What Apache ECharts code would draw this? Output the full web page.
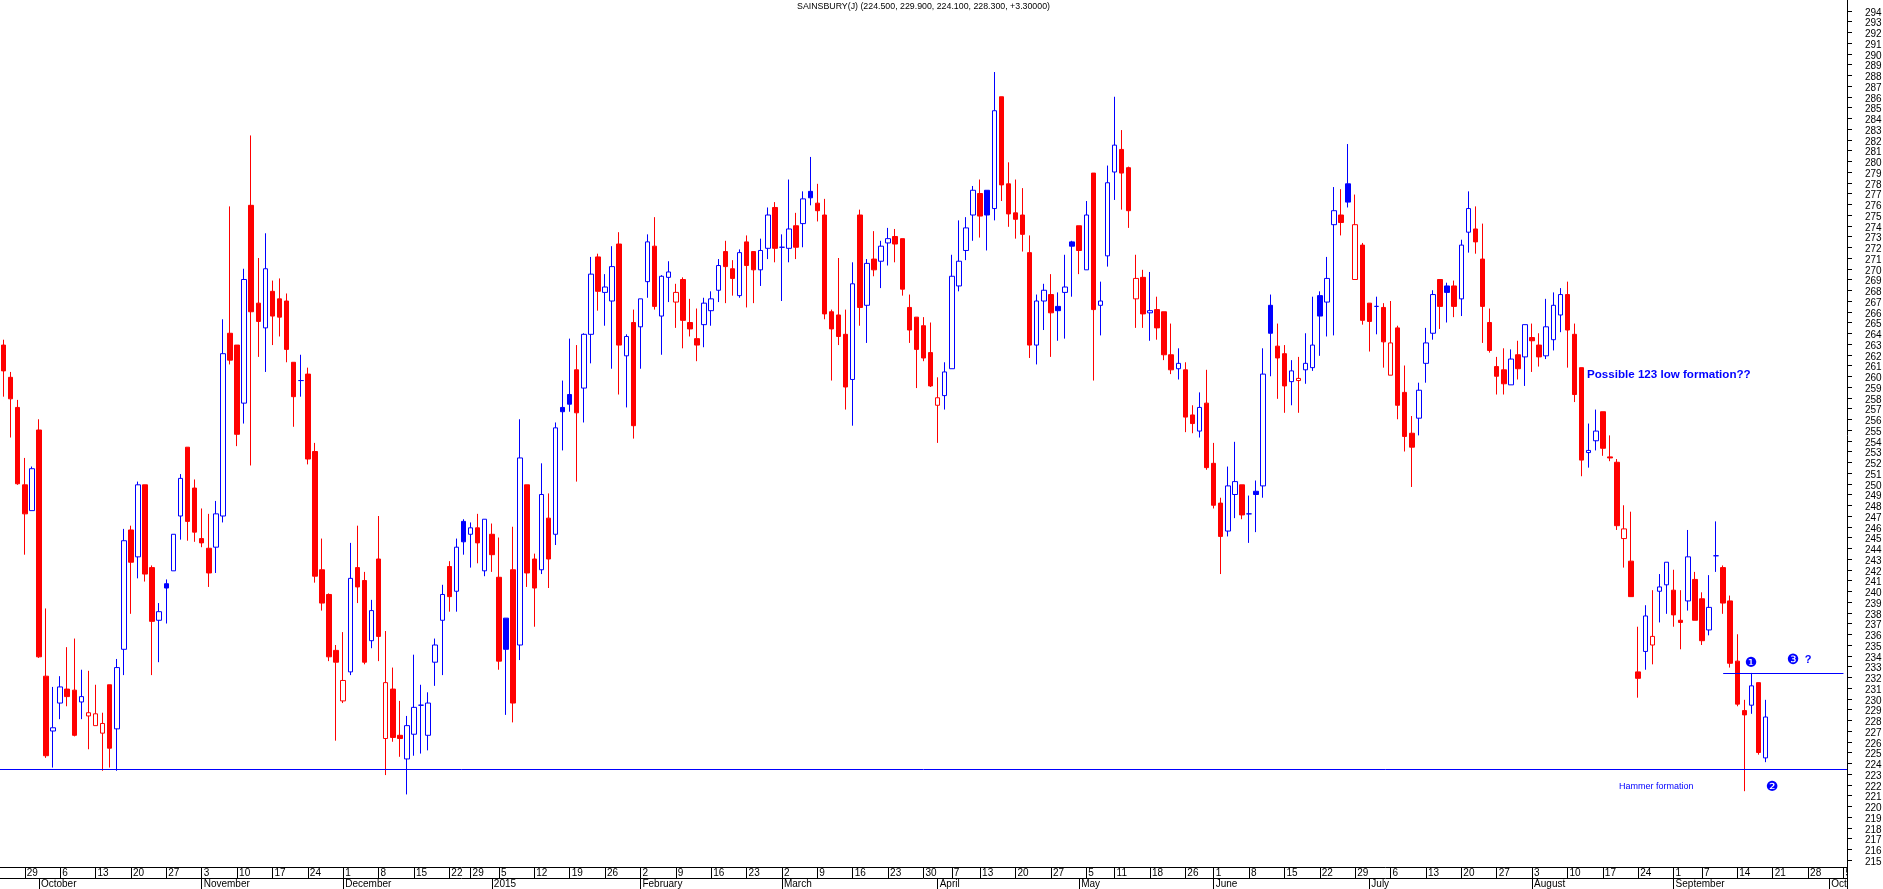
<!DOCTYPE html>
<html>
<head>
<meta charset="utf-8">
<title>Sainsbury</title>
<style>
  html, body {margin: 0; padding: 0; background: #fff;}
  #chart {width: 1883px; height: 889px;}
</style>
<script src="https://cdn.jsdelivr.net/npm/echarts@6/dist/echarts.min.js"></script>
</head>
<body>
<div id="chart"></div>
<script>
const dates = [
  '2014-09-24','2014-09-25','2014-09-26','2014-09-29','2014-09-30',
  '2014-10-01','2014-10-02','2014-10-03','2014-10-06','2014-10-07','2014-10-08','2014-10-09','2014-10-10',
  '2014-10-13','2014-10-14','2014-10-15','2014-10-16','2014-10-17','2014-10-20','2014-10-21','2014-10-22','2014-10-23','2014-10-24',
  '2014-10-27','2014-10-28','2014-10-29','2014-10-30','2014-10-31',
  '2014-11-03','2014-11-04','2014-11-05','2014-11-06','2014-11-07','2014-11-10','2014-11-11','2014-11-12','2014-11-13','2014-11-14',
  '2014-11-17','2014-11-18','2014-11-19','2014-11-20','2014-11-21','2014-11-24','2014-11-25','2014-11-26','2014-11-27','2014-11-28',
  '2014-12-01','2014-12-02','2014-12-03','2014-12-04','2014-12-05','2014-12-08','2014-12-09','2014-12-10','2014-12-11','2014-12-12',
  '2014-12-15','2014-12-16','2014-12-17','2014-12-18','2014-12-19','2014-12-22','2014-12-23','2014-12-24','2014-12-29','2014-12-30','2014-12-31',
  '2015-01-02','2015-01-05','2015-01-06','2015-01-07','2015-01-08','2015-01-09','2015-01-12','2015-01-13','2015-01-14','2015-01-15','2015-01-16',
  '2015-01-19','2015-01-20','2015-01-21','2015-01-22','2015-01-23','2015-01-26','2015-01-27','2015-01-28','2015-01-29','2015-01-30',
  '2015-02-02','2015-02-03','2015-02-04','2015-02-05','2015-02-06','2015-02-09','2015-02-10','2015-02-11','2015-02-12','2015-02-13',
  '2015-02-16','2015-02-17','2015-02-18','2015-02-19','2015-02-20','2015-02-23','2015-02-24','2015-02-25','2015-02-26','2015-02-27',
  '2015-03-02','2015-03-03','2015-03-04','2015-03-05','2015-03-06','2015-03-09','2015-03-10','2015-03-11','2015-03-12','2015-03-13',
  '2015-03-16','2015-03-17','2015-03-18','2015-03-19','2015-03-20','2015-03-23','2015-03-24','2015-03-25','2015-03-26','2015-03-27','2015-03-30','2015-03-31',
  '2015-04-01','2015-04-02','2015-04-07','2015-04-08','2015-04-09','2015-04-10','2015-04-13','2015-04-14','2015-04-15','2015-04-16','2015-04-17',
  '2015-04-20','2015-04-21','2015-04-22','2015-04-23','2015-04-24','2015-04-27','2015-04-28','2015-04-29','2015-04-30',
  '2015-05-01','2015-05-05','2015-05-06','2015-05-07','2015-05-08','2015-05-11','2015-05-12','2015-05-13','2015-05-14','2015-05-15',
  '2015-05-18','2015-05-19','2015-05-20','2015-05-21','2015-05-22','2015-05-26','2015-05-27','2015-05-28','2015-05-29',
  '2015-06-01','2015-06-02','2015-06-03','2015-06-04','2015-06-05','2015-06-08','2015-06-09','2015-06-10','2015-06-11','2015-06-12',
  '2015-06-15','2015-06-16','2015-06-17','2015-06-18','2015-06-19','2015-06-22','2015-06-23','2015-06-24','2015-06-25','2015-06-26','2015-06-29','2015-06-30',
  '2015-07-01','2015-07-02','2015-07-03','2015-07-06','2015-07-07','2015-07-08','2015-07-09','2015-07-10','2015-07-13','2015-07-14','2015-07-15','2015-07-16','2015-07-17',
  '2015-07-20','2015-07-21','2015-07-22','2015-07-23','2015-07-24','2015-07-27','2015-07-28','2015-07-29','2015-07-30','2015-07-31',
  '2015-08-03','2015-08-04','2015-08-05','2015-08-06','2015-08-07','2015-08-10','2015-08-11','2015-08-12','2015-08-13','2015-08-14',
  '2015-08-17','2015-08-18','2015-08-19','2015-08-20','2015-08-21','2015-08-24','2015-08-25','2015-08-26','2015-08-27','2015-08-28',
  '2015-09-01','2015-09-02','2015-09-03','2015-09-04','2015-09-07','2015-09-08','2015-09-09','2015-09-10','2015-09-11',
  '2015-09-14','2015-09-15','2015-09-16','2015-09-17','2015-09-18','2015-09-21','2015-09-22','2015-09-23','2015-09-24','2015-09-25',
  '2015-09-28','2015-09-29','2015-09-30','2015-10-01','2015-10-02','2015-10-05'
];

const opens = [
  262.9,259.9,257.1,249.9,247.5,255.0,232.1,227.0,229.6,230.9,
  230.8,229.7,228.4,227.5,226.8,231.3,227.2,234.6,245.7,243.2,
  249.9,242.2,237.3,240.7,241.9,247.0,253.4,249.6,244.9,244.0,
  244.1,247.0,264.0,262.9,257.5,275.9,266.8,264.5,267.9,267.2,
  267.0,261.3,259.6,260.2,253.0,242.0,239.7,234.5,229.8,232.5,
  242.2,241.0,235.4,243.0,226.3,230.9,226.6,224.4,226.7,229.4,
  226.6,233.4,237.3,242.3,240.0,246.5,245.3,245.9,241.9,245.3,
  241.3,237.5,242.0,235.0,249.9,243.0,242.0,246.8,245.3,257.1,
  258.3,260.6,258.9,263.9,271.1,267.8,267.0,272.3,261.9,265.0,
  264.6,268.8,272.1,265.6,269.2,266.9,269.0,265.0,263.5,264.8,
  266.1,268.0,271.6,270.0,267.5,272.5,271.6,269.9,271.9,275.7,
  272.0,271.9,274.0,274.2,277.2,276.1,275.0,266.0,265.7,263.9,
  259.7,275.0,266.6,270.9,270.7,272.4,273.0,272.8,266.4,265.5,
  264.7,262.2,257.3,258.2,260.7,268.4,271.7,275.0,277.0,277.3,
  275.6,286.0,277.9,275.2,275.0,271.5,262.9,267.0,267.6,266.5,
  267.8,272.5,274.0,269.9,278.9,266.6,271.2,279.0,281.1,279.4,
  267.2,269.2,265.9,266.2,266.0,262.0,260.7,260.6,256.4,254.9,
  257.5,251.9,248.2,245.6,249.0,249.9,247.2,249.3,249.8,266.6,
  262.8,262.1,259.5,259.6,260.6,260.8,267.5,266.9,274.1,275.0,
  277.9,269.0,272.2,266.8,266.5,266.4,260.1,264.5,258.5,254.7,
  256.1,261.2,264.0,269.0,268.4,268.4,267.2,273.4,273.7,270.9,
  265.0,260.9,260.6,259.2,262.0,261.8,263.6,262.9,261.9,263.4,
  265.7,267.6,263.9,260.8,252.9,254.0,256.7,252.5,252.0,244.9,
  242.8,232.5,234.4,235.0,240.0,240.6,240.1,237.3,239.1,241.1,
  239.3,236.4,243.3,242.2,239.1,233.5,228.9,229.4,231.5,224.5
];

const highs = [
  263.4,260.4,257.8,252.4,251.6,256.0,238.4,231.1,232.1,234.8,
  235.6,232.7,232.6,231.3,228.7,231.3,233.7,245.8,246.1,250.2,
  249.9,242.4,238.9,241.1,245.3,250.9,253.4,250.4,247.7,247.2,
  248.4,265.3,275.8,262.9,270.0,282.4,271.0,273.3,268.9,269.1,
  267.7,261.3,262.0,260.8,253.8,244.9,239.8,235.0,236.2,244.5,
  246.1,241.8,239.2,247.0,236.3,232.9,229.8,228.4,234.1,231.3,
  230.6,235.6,240.6,242.8,244.9,246.7,246.4,247.2,246.7,246.3,
  245.0,237.5,246.0,256.0,249.9,243.5,251.9,249.1,255.7,259.6,
  263.5,262.9,264.0,271.1,271.4,269.5,272.1,273.4,263.9,266.2,
  267.2,273.2,274.8,269.4,270.7,268.6,269.2,267.2,266.3,267.3,
  267.9,270.9,272.6,270.8,271.8,273.1,271.6,272.8,275.7,276.2,
  273.2,278.3,275.2,277.2,280.4,277.9,276.5,266.2,271.0,266.2,
  270.6,275.5,270.9,273.5,272.6,273.8,273.7,272.8,267.6,265.5,
  265.5,265.0,259.9,261.3,271.3,274.5,274.8,277.7,278.3,277.3,
  288.3,286.0,279.9,278.3,277.5,273.1,267.6,268.6,269.5,267.8,
  271.3,272.6,274.0,276.3,278.9,268.8,279.6,286.0,282.9,279.5,
  271.3,269.9,269.7,267.4,266.0,264.9,262.6,261.3,257.3,258.5,
  260.6,253.8,248.7,251.6,253.9,249.9,248.9,250.3,262.6,267.6,
  264.9,262.9,261.5,261.8,264.0,267.4,267.9,271.1,277.6,277.4,
  281.6,276.9,272.4,266.8,267.4,266.8,267.0,264.7,261.0,256.3,
  259.4,264.5,268.0,269.0,268.7,268.9,272.7,277.2,275.8,274.2,
  266.3,261.8,262.6,262.5,263.3,264.8,264.9,264.0,267.2,267.8,
  268.2,268.8,264.9,260.8,255.6,256.9,256.7,254.5,252.3,248.0,
  247.4,236.7,238.7,240.1,241.6,242.7,242.0,240.1,245.7,241.8,
  239.9,241.5,246.5,242.4,239.6,236.0,229.9,232.4,231.5,229.9
];

const lows = [
  258.1,254.3,249.9,243.4,247.5,233.8,224.5,223.6,228.1,229.3,
  226.5,228.1,225.3,227.5,223.3,223.6,223.3,232.2,237.9,241.2,
  240.9,232.2,233.4,237.0,241.9,244.8,244.7,244.6,244.1,240.4,
  241.7,246.4,261.1,253.5,255.6,251.7,261.8,260.4,262.9,263.7,
  261.3,255.3,258.1,251.8,240.8,238.2,233.5,226.1,229.6,232.2,
  238.9,233.2,234.7,233.5,222.9,226.0,224.6,221.1,224.7,224.9,
  225.2,231.2,232.2,238.1,238.1,243.4,242.2,242.6,241.4,241.8,
  232.7,228.5,227.8,233.6,240.4,236.7,241.6,240.3,244.3,253.1,
  256.7,250.2,255.7,261.2,266.1,264.7,260.7,258.3,257.1,254.2,
  260.7,267.3,266.2,262.0,266.9,264.5,262.6,263.7,261.4,262.7,
  264.7,266.9,266.8,267.5,267.3,266.4,266.8,268.4,270.9,270.6,
  267.0,270.6,270.9,272.0,275.9,274.4,265.3,259.6,262.9,256.9,
  255.4,264.7,263.1,269.3,268.2,270.3,270.6,267.5,263.1,258.9,
  261.4,259.0,253.8,256.9,260.7,267.9,270.8,272.6,272.9,271.7,
  274.5,276.3,273.9,272.8,271.6,261.7,261.1,264.3,261.8,263.3,
  263.5,267.4,269.5,269.9,259.6,263.8,270.2,276.4,275.5,273.8,
  264.5,264.5,263.3,263.4,261.5,260.2,259.7,254.8,254.7,254.3,
  251.3,247.7,241.6,245.1,246.8,246.7,244.5,245.5,248.7,260.0,
  257.9,256.6,257.3,256.6,259.3,260.5,261.9,263.7,263.8,273.1,
  275.7,269.0,264.8,262.3,263.9,260.8,260.1,256.0,253.0,249.7,
  254.5,259.4,263.4,264.4,265.0,265.5,265.6,271.5,271.4,263.1,
  262.2,258.3,258.3,259.2,259.7,259.1,260.4,260.9,261.6,262.4,
  264.1,260.8,257.6,250.7,251.5,253.1,252.6,252.1,245.7,242.2,
  239.5,230.1,232.7,233.2,237.1,237.9,236.7,234.6,238.2,237.3,
  235.0,235.9,241.8,237.9,232.9,229.3,221.4,228.6,224.8,224.1
];

const closes = [
  260.5,257.9,250.0,247.2,251.4,233.9,224.7,227.3,231.1,230.2,
  226.6,230.2,228.7,228.6,227.7,225.4,232.9,244.7,242.7,249.9,
  241.6,237.2,238.1,240.3,245.3,250.5,246.5,245.5,244.5,241.7,
  247.2,262.1,261.5,254.6,269.0,266.0,265.1,270.0,265.6,265.5,
  262.5,258.1,259.6,252.3,241.4,238.9,233.9,233.4,231.7,241.2,
  240.4,233.4,238.2,235.8,231.5,226.4,226.3,227.5,229.2,229.4,
  229.6,235.0,239.7,239.5,244.1,244.6,245.9,244.5,246.7,243.4,
  233.5,234.6,229.6,252.4,241.7,240.3,249.0,243.0,255.2,256.7,
  257.4,256.6,263.9,269.5,267.9,268.3,270.2,262.9,263.7,255.4,
  267.2,272.5,266.5,269.3,269.7,267.8,265.2,264.4,262.9,266.8,
  267.2,270.3,270.2,269.1,271.5,270.3,269.9,271.7,275.0,271.9,
  272.0,273.7,272.0,276.5,276.6,275.4,265.8,264.4,263.7,259.0,
  268.6,266.4,270.5,269.9,272.1,272.8,272.3,268.1,264.3,262.5,
  261.7,259.1,258.0,260.4,269.3,270.7,273.8,277.3,274.9,275.0,
  284.7,277.8,275.1,274.6,273.2,262.9,267.0,268.0,265.9,266.1,
  268.3,272.1,271.7,275.0,266.2,267.0,278.0,281.5,278.9,275.4,
  269.1,265.8,266.1,264.5,262.0,260.6,261.2,256.2,255.6,257.1,
  251.5,248.0,245.1,249.8,250.2,247.1,247.2,249.0,260.2,264.0,
  261.7,259.1,260.5,259.8,261.2,262.9,265.6,269.1,275.4,274.3,
  276.2,274.1,265.2,265.1,266.5,263.2,263.1,257.3,254.4,253.4,
  258.7,263.1,267.6,266.5,267.8,266.5,272.2,275.6,272.5,266.5,
  262.4,260.0,259.3,261.6,260.7,264.8,263.3,261.8,264.6,266.6,
  267.6,264.3,258.3,252.2,253.1,254.9,253.3,252.4,246.1,245.8,
  239.5,231.9,237.7,235.8,240.4,242.7,237.8,237.1,243.2,237.3,
  235.4,238.5,243.3,238.9,233.3,229.5,228.5,231.2,225.0,228.3
];

const monthNames = ['2015','February','March','April','May','June','July','August','September','October','November','December'];
const supportLevel = 223.4;
const resistanceLevel = 232.4;
const resistanceFrom = '2015-09-10';
const resistanceTo = '2015-10-05';
const chartTitle = 'SAINSBURY(J) (224.500, 229.900, 224.100, 228.300, +3.30000)';

const RED = '#ff0000';
const BLUE = '#0000ff';
const FONT = '"Liberation Sans", sans-serif';

// blue when the close is above the previous close, hollow when close is above open
const candles = opens.map((o, i) => {
  const c = closes[i];
  const col = i > 0 && c >= closes[i - 1] ? BLUE : RED;
  const fill = c >= o ? '#fff' : col;
  return {
    value: [o, c, lows[i], highs[i]],
    itemStyle: {color: fill, color0: fill, borderColor: col, borderColor0: col},
  };
});

const day = (s) => new Date(s + 'T00:00:00Z');
const weekTicks = new Set();
const monthTicks = new Set();
dates.forEach((d, i) => {
  if (i === 0) return;
  const cur = day(d), prev = day(dates[i - 1]);
  if (cur.getUTCDay() <= prev.getUTCDay()) weekTicks.add(i);
  if (cur.getUTCMonth() !== prev.getUTCMonth()) monthTicks.add(i);
});

const baseAxis = {
  type: 'category',
  data: dates,
  position: 'bottom',
  boundaryGap: true,
  axisLine: {onZero: false, lineStyle: {color: '#000', width: 1}},
  splitLine: {show: false},
};

const blueText = (text, x, y, font, align) => ({
  type: 'text',
  x, y,
  silent: true,
  z: 50,
  style: {text, fill: BLUE, font, align: align || 'left', verticalAlign: 'middle'},
});

const myChart = echarts.init(document.getElementById('chart'));
myChart.setOption({
  animation: false,
  backgroundColor: '#fff',
  title: {
    text: chartTitle,
    left: 923.5,
    top: 2,
    padding: 0,
    textAlign: 'center',
    textStyle: {color: '#000', fontSize: 8.8, fontWeight: 'normal', fontFamily: FONT},
  },
  grid: {left: 0, top: 0, width: 1847, height: 870.75, outerBoundsMode: 'none'},
  xAxis: [
    Object.assign({}, baseAxis, {
      offset: -3.75,
      axisTick: {
        show: true,
        alignWithLabel: true,
        length: 11,
        interval: (i) => weekTicks.has(i),
        lineStyle: {color: '#000'},
      },
      axisLabel: {
        show: true,
        interval: (i) => weekTicks.has(i),
        hideOverlap: false,
        formatter: (v) => String(day(v).getUTCDate()),
        align: 'left',
        margin: 1,
        padding: [0, 0, 0, 2],
        color: '#000',
        fontSize: 10,
        fontFamily: FONT,
      },
    }),
    Object.assign({}, baseAxis, {
      offset: 7.25,
      axisTick: {
        show: true,
        alignWithLabel: true,
        length: 11,
        interval: (i) => monthTicks.has(i),
        lineStyle: {color: '#000'},
      },
      axisLabel: {
        show: true,
        interval: (i) => monthTicks.has(i),
        hideOverlap: false,
        formatter: (v) => monthNames[day(v).getUTCMonth()],
        align: 'left',
        margin: 1,
        padding: [0, 0, 0, 2],
        color: '#000',
        fontSize: 10,
        fontFamily: FONT,
      },
    }),
  ],
  yAxis: {
    type: 'value',
    position: 'right',
    min: 214,
    max: 295,
    interval: 1,
    scale: true,
    splitLine: {show: false},
    axisLine: {show: true, lineStyle: {color: '#000', width: 1}},
    axisTick: {show: true, length: 5, lineStyle: {color: '#000'}},
    axisLabel: {
      margin: 18,
      color: '#000',
      fontSize: 10,
      fontFamily: FONT,
      verticalAlign: 'top',
      lineHeight: 4,
      showMinLabel: false,
      showMaxLabel: false,
      formatter: (v) => String(v),
    },
  },
  series: [{
    type: 'candlestick',
    data: candles,
    barWidth: 5,
    clip: false,
    itemStyle: {borderWidth: 1},
    markLine: {
      silent: true,
      animation: false,
      symbol: 'none',
      label: {show: false},
      lineStyle: {color: BLUE, width: 1, type: 'solid'},
      data: [
        {yAxis: supportLevel},
        [{coord: [resistanceFrom, resistanceLevel]}, {coord: [resistanceTo, resistanceLevel]}],
      ],
    },
  }],
  graphic: [
    blueText('Possible 123 low formation??', 1587, 375, 'bold 11.6px "Liberation Sans", sans-serif'),
    blueText('Hammer formation', 1619, 787, '9px ' + FONT),
    blueText('\u2776', 1751, 663, '14px "DejaVu Sans", sans-serif', 'center'),
    blueText('\u2777', 1772, 787, '14px "DejaVu Sans", sans-serif', 'center'),
    blueText('\u2778', 1793, 660, '14px "DejaVu Sans", sans-serif', 'center'),
    blueText('?', 1808, 660, 'bold 11px "Liberation Sans", sans-serif', 'center'),
    // the reference cuts the last date labels at the price axis
    {type: 'rect', silent: true, z: 60, shape: {x: 1848, y: 866, width: 35, height: 23}, style: {fill: '#fff'}},
    {type: 'line', silent: true, z: 61, shape: {x1: 1847.5, y1: 866, x2: 1847.5, y2: 889}, style: {stroke: '#000', lineWidth: 1}},
  ],
});
</script>
</body>
</html>
